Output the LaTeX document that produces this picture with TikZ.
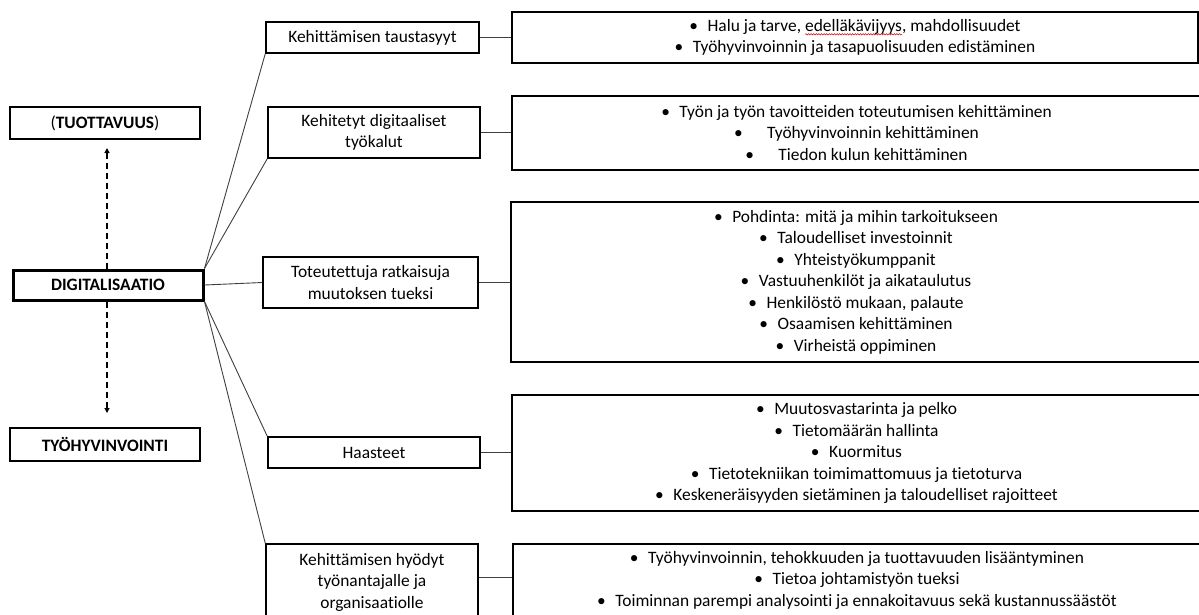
\documentclass[tikz,border=0pt]{standalone}
\usepackage{fontspec}
\setmainfont{Carlito}[Ligatures={NoCommon}]
\usetikzlibrary{arrows.meta,decorations.pathmorphing}
\newcommand\diafs{\fontsize{17.4}{21.5}\selectfont}
\newcommand\bul{\textbullet\hspace{0.55em}}
\newcommand\redwave[1]{\tikz[baseline=(w.base),x=1pt,y=1pt]{\node[draw=none,inner sep=0pt,outer sep=0pt,minimum width=0pt,minimum height=0pt,anchor=base] (w) {#1};\draw[overlay,draw=red!85!black,line width=0.5pt,decorate,decoration={snake,amplitude=0.7pt,segment length=2.6pt}] ([yshift=-3pt]w.base west) -- ([yshift=-3pt]w.base east);}}
\begin{document}
\begin{tikzpicture}[x=1pt,y=-1pt,
  box/.style={draw=black,line width=1.5pt,inner sep=0pt,align=center,font=\diafs},
  rbox/.style={box},
  thickbox/.style={box,line width=3pt},
  link/.style={draw=black!75,line width=0.9pt},
  dasharrow/.style={line width=1.3pt,dash pattern=on 6pt off 4pt,-{Triangle[length=5pt,width=5pt]}}]
\useasboundingbox (0,0) rectangle (1199,614);
\clip (0,0) rectangle (1199,614);
\fill[white] (0,0) rectangle (1199,614);
% left column
\node[box,minimum width=190pt,minimum height=32pt] (tuot) at (105,123) {(\textbf{TUOTTAVUUS})};
\node[thickbox,minimum width=190pt,minimum height=30pt] (digi) at (108,285) {\textbf{DIGITALISAATIO}};
\node[box,minimum width=190pt,minimum height=33pt] (tyo) at (105,444.5) {\textbf{TYÖHYVINVOINTI}};
\coordinate (upend) at (107,148);
\coordinate (downend) at (107,413);
\draw[dasharrow] (digi.north -| upend) -- (upend);
\draw[dasharrow] (digi.south -| downend) -- (downend);
% middle column
\node[box,minimum width=213pt,minimum height=31pt] (m1) at (372.5,37.5) {Kehittämisen taustasyyt};
\node[box,minimum width=212pt,minimum height=51pt] (m2) at (374,132.5) {Kehitetyt digitaaliset\\työkalut};
\node[box,minimum width=215pt,minimum height=51pt] (m3) at (370.5,282.5) {Toteutettuja ratkaisuja\\muutoksen tueksi};
\node[box,minimum width=212pt,minimum height=31pt] (m4) at (374,452.5) {Haasteet};
\node[box,minimum width=212pt,minimum height=76pt] (m5) at (372,582) {Kehittämisen hyödyt\\työnantajalle ja\\organisaatiolle};
% right column
\node[rbox,minimum width=686pt,minimum height=51pt] (r1) at (855,37.5) {\bul Halu ja tarve, \redwave{edelläkävijyys}, mahdollisuudet\\\bul Työhyvinvoinnin ja tasapuolisuuden edistäminen};
\node[rbox,minimum width=689pt,minimum height=74pt] (r2) at (856.5,133) {\bul Työn ja työn tavoitteiden toteutumisen kehittäminen\\\textbullet\hspace{1.4em}Työhyvinvoinnin kehittäminen\\\textbullet\hspace{1.4em}Tiedon kulun kehittäminen};
\node[rbox,minimum width=690pt,minimum height=160pt] (r3) at (856,282) {\bul Pohdinta: mitä ja mihin tarkoitukseen\\\bul Taloudelliset investoinnit\\\bul Yhteistyökumppanit\\\bul Vastuuhenkilöt ja aikataulutus\\\bul Henkilöstö mukaan, palaute\\\bul Osaamisen kehittäminen\\\bul Virheistä oppiminen};
\node[rbox,minimum width=689pt,minimum height=116pt] (r4) at (856.5,453) {\bul Muutosvastarinta ja pelko\\\bul Tietomäärän hallinta\\\bul Kuormitus\\\bul Tietotekniikan toimimattomuus ja tietoturva\\\bul Keskeneräisyyden sietäminen ja taloudelliset rajoitteet};
\node[rbox,minimum width=688pt,minimum height=72pt] (r5) at (857,580) {\bul Työhyvinvoinnin, tehokkuuden ja tuottavuuden lisääntyminen\\\bul Tietoa johtamistyön tueksi\\\bul Toiminnan parempi analysointi ja ennakoitavuus sekä kustannussäästöt};
% connectors from DIGITALISAATIO
\draw[link] (digi.north east) -- (m1.south west);
\draw[link] (digi.north east) -- (m2.south west);
\draw[link] (digi.east) -- (m3.west);
\draw[link] (digi.south east) -- (m4.north west);
\draw[link] (digi.south east) -- (m5.north west);
% middle to right
\draw[link] (m1.east) -- (r1.west |- m1.east);
\draw[link] (m2.east) -- (r2.west |- m2.east);
\draw[link] (m3.east) -- (r3.west |- m3.east);
\draw[link] (m4.east) -- (r4.west |- m4.east);
\coordinate (c5) at (0,577);
\draw[link] (m5.east |- c5) -- (r5.west |- c5);
\end{tikzpicture}
\end{document}
